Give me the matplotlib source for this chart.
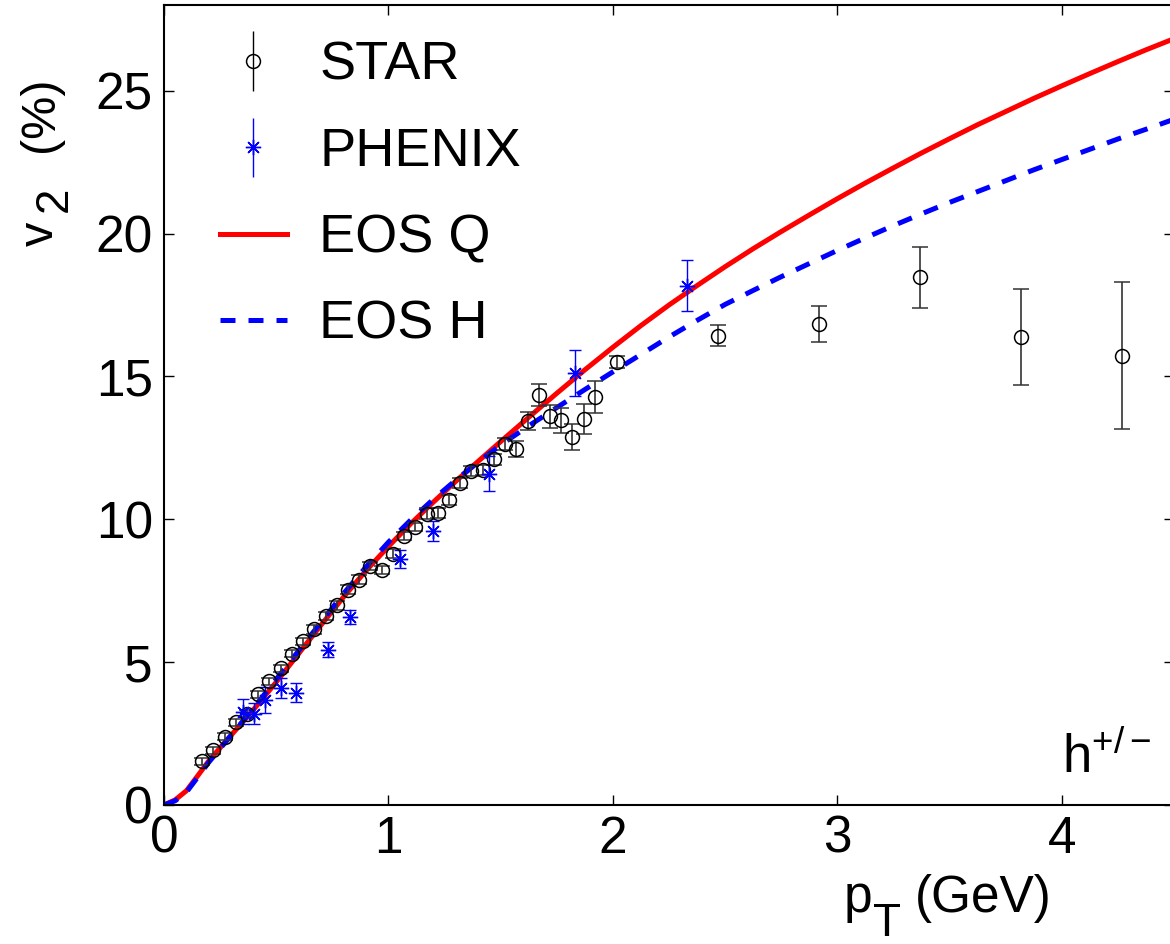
import numpy as np
import matplotlib.pyplot as plt
from matplotlib.legend_handler import HandlerErrorbar

plt.rcParams['font.family'] = ['Liberation Sans', 'DejaVu Sans']
plt.rcParams['mathtext.fontset'] = 'custom'
plt.rcParams['mathtext.rm'] = 'Liberation Sans'
plt.rcParams['mathtext.it'] = 'Liberation Sans'
plt.rcParams['mathtext.default'] = 'regular'

# STAR charged hadron v2 (%) vs pT (GeV)
star_pt = [0.17, 0.22, 0.27, 0.32, 0.37, 0.42, 0.47, 0.52, 0.57, 0.62,
           0.67, 0.72, 0.77, 0.82, 0.87, 0.92, 0.97, 1.02, 1.07, 1.12,
           1.17, 1.22, 1.27, 1.32, 1.37, 1.42, 1.47, 1.52, 1.57, 1.62,
           1.67, 1.72, 1.77, 1.82, 1.87, 1.92, 2.02,
           2.47, 2.92, 3.37, 3.82, 4.27]
star_v2 = [1.53, 1.92, 2.39, 2.89, 3.20, 3.87, 4.33, 4.78, 5.30, 5.73,
           6.15, 6.61, 6.99, 7.54, 7.89, 8.36, 8.22, 8.80, 9.41, 9.73,
           10.20, 10.22, 10.67, 11.27, 11.70, 11.73, 12.10, 12.64, 12.45, 13.44,
           14.36, 13.60, 13.46, 12.88, 13.51, 14.28, 15.50,
           16.43, 16.84, 18.47, 16.37, 15.73]
star_err = [0.12, 0.12, 0.12, 0.12, 0.12, 0.12, 0.12, 0.12, 0.12, 0.12,
            0.15, 0.15, 0.15, 0.15, 0.15, 0.15, 0.15, 0.15, 0.15, 0.15,
            0.18, 0.18, 0.18, 0.18, 0.18, 0.18, 0.20, 0.22, 0.28, 0.33,
            0.38, 0.40, 0.43, 0.46, 0.54, 0.57, 0.20,
            0.37, 0.64, 1.06, 1.68, 2.57]

# PHENIX charged hadron v2
phenix_pt = [0.35, 0.40, 0.45, 0.52, 0.59, 0.73, 0.83, 1.05, 1.20, 1.45, 1.83, 2.33]
phenix_v2 = [3.26, 3.20, 3.67, 4.10, 3.93, 5.44, 6.58, 8.60, 9.60, 11.60, 15.12, 18.18]
phenix_err = [0.44, 0.38, 0.45, 0.34, 0.33, 0.26, 0.26, 0.32, 0.35, 0.60, 0.79, 0.89]

# hydro curves, EOS Q (solid) and EOS H (dashed)
curve_pt = [0.0, 0.05, 0.1, 0.15, 0.2, 0.3, 0.4, 0.5, 0.6, 0.7, 0.8, 0.9, 1.0,
            1.1, 1.2, 1.3, 1.4, 1.5, 1.625, 1.75, 1.875, 2.0, 2.125, 2.25, 2.375,
            2.5, 2.625, 2.75, 2.875, 3.0, 3.125, 3.25, 3.375, 3.5, 3.625, 3.75,
            3.875, 4.0, 4.125, 4.25, 4.375, 4.5]
eosq_v2 = [0.0, 0.18, 0.5, 1.02, 1.55, 2.45, 3.35, 4.3, 5.3, 6.3, 7.28, 8.2, 9.05,
           9.85, 10.6, 11.33, 12.03, 12.72, 13.57, 14.41, 15.23, 16.02, 16.78, 17.5, 18.18,
           18.84, 19.47, 20.07, 20.65, 21.22, 21.77, 22.3, 22.82, 23.32, 23.81, 24.27,
           24.73, 25.17, 25.6, 26.02, 26.43, 26.82]
eosh_v2 = [0.0, 0.15, 0.45, 0.97, 1.5, 2.45, 3.4, 4.4, 5.4, 6.4, 7.4, 8.33, 9.2,
           9.98, 10.7, 11.37, 12.0, 12.6, 13.27, 13.91, 14.54, 15.16, 15.77, 16.38, 16.96,
           17.52, 18.01, 18.49, 18.95, 19.41, 19.85, 20.28, 20.69, 21.09, 21.47, 21.85,
           22.23, 22.59, 22.95, 23.31, 23.65, 24.0]

W, H = 1170, 944
fig = plt.figure(figsize=(W/100, H/100), dpi=100)
ax = fig.add_axes([164/W, 139/H, 1010/W, 800/H])

lq, = ax.plot(curve_pt, eosq_v2, color='r', lw=3.6, label='EOS Q', zorder=2)
lh, = ax.plot(curve_pt, eosh_v2, color='b', lw=3.6, ls=(0, (3, 2.6)), label='EOS H', zorder=2)

st = ax.errorbar(star_pt, star_v2, yerr=star_err, fmt='o', mfc='none', mec='k', ms=10,
                 mew=1.1, ecolor='#333333', elinewidth=1.2, capsize=6, capthick=1.2,
                 zorder=3)
ph = ax.errorbar(phenix_pt, phenix_v2, yerr=phenix_err, ls='none', marker=(8, 2, 0),
                 ms=11, mec='b', mfc='b', mew=1.0, ecolor='b',
                 elinewidth=1.0, capsize=4, capthick=1.0, zorder=3)

ax.set_xlim(0, 4.5)
ax.set_ylim(0, 28)
ax.set_xticks([0, 1, 2, 3, 4])
ax.set_yticks([0, 5, 10, 15, 20, 25])
ax.tick_params(direction='in', length=7, width=1, top=True, right=True,
               labelsize=37, pad=7)
ax.tick_params(axis='y', pad=8)
for s in ax.spines.values():
    s.set_linewidth(1.5)

# axis labels: subscripts are nearly full size and dropped, as in the original
fs = 37
fig.text(844/W, 1 - 912/H, 'p', fontsize=fs, ha='left', va='baseline')
fig.text(873/W, 1 - 936/H, 'T', fontsize=33, ha='left', va='baseline')
fig.text(915/W, 1 - 912/H, '(GeV)', fontsize=fs, ha='left', va='baseline')

fig.text(53/W, 1 - 246/H, 'v', fontsize=35, rotation=90, rotation_mode='anchor',
         ha='left', va='baseline')
fig.text(67/W, 1 - 212/H, '2', fontsize=33, rotation=90, rotation_mode='anchor',
         ha='left', va='baseline')
fig.text(53/W, 1 - 152/H, '(%)', fontsize=35, rotation=90, rotation_mode='anchor',
         ha='left', va='baseline')

ax.text(4.0, 1.12, 'h$^{+/−}$', fontsize=38, ha='left', va='baseline')

# legend handles, empty so nothing extra is drawn
star_h = ax.errorbar([], [], yerr=[], fmt='o', mfc='none', mec='k', ms=10, mew=1.1,
                     ecolor='k', elinewidth=1.0, capsize=0)
phen_h = ax.errorbar([], [], yerr=[], ls='none', marker=(8, 2, 0), mec='b', mfc='b',
                     ms=11, mew=1.0, ecolor='b', elinewidth=1.0, capsize=2)
leg = ax.legend([star_h, phen_h, lq, lh], ['STAR', 'PHENIX', 'EOS Q', 'EOS H'],
                loc='upper left', bbox_to_anchor=(0.055, 0.955), frameon=False,
                fontsize=39, handlelength=1.24, handletextpad=0.6,
                labelspacing=0.67, borderpad=0, borderaxespad=0,
                handler_map={star_h: HandlerErrorbar(yerr_size=0.55),
                             phen_h: HandlerErrorbar(yerr_size=0.55)})

fig.savefig('out.png', dpi=100)
